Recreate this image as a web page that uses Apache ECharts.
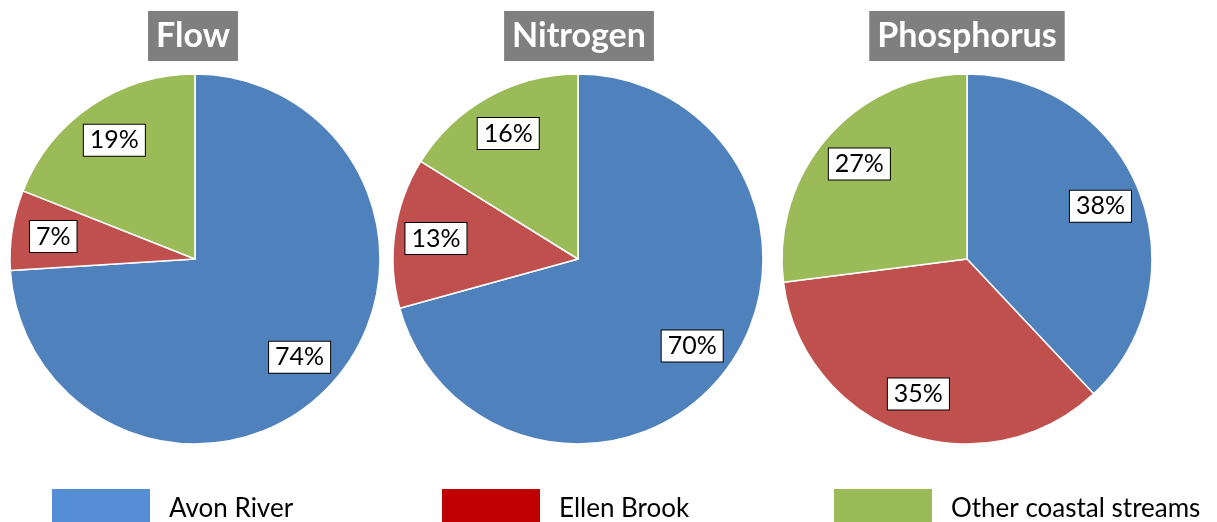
<!DOCTYPE html>
<html>
<head>
<meta charset="utf-8">
<script src="https://cdn.jsdelivr.net/npm/echarts@6/dist/echarts.min.js"></script>
<style>
  html, body { margin: 0; padding: 0; background: #fff; }
  #chart { width: 1217px; height: 522px; }
</style>
</head>
<body>
<div id="chart"></div>
<script>
// Source categories and their shares (%) for each measure
const sources = ['Avon River', 'Ellen Brook', 'Other coastal streams'];
const panelTitles = ['Flow', 'Nitrogen', 'Phosphorus'];
const flowShare = [74, 7, 19];
const nitrogenShare = [70, 13, 16];
const phosphorusShare = [38, 35, 27];

const sliceColors = ['#4F81BD', '#C0504D', '#9BBB59'];
const legendColors = ['#558ED5', '#C00000', '#9BBB59'];
const FONT = 'Lato, "Open Sans", sans-serif';

const panels = [flowShare, nitrogenShare, phosphorusShare];
const centersX = [195, 578, 967];
const CY = 259, R = 185;

const chart = echarts.init(document.getElementById('chart'));

const series = [];
panels.forEach((vals, i) => {
  const data = vals.map((v, k) => ({ name: sources[k], value: v, itemStyle: { color: sliceColors[k] } }));
  // filled slices
  series.push({
    type: 'pie',
    silent: true,
    center: [centersX[i], CY],
    radius: [0, R],
    startAngle: 90,
    clockwise: true,
    label: { show: false },
    labelLine: { show: false },
    itemStyle: { borderColor: '#fff', borderWidth: 1.5 },
    data: data
  });
  // boxed percentage labels, placed on a ring so they sit toward the rim
  series.push({
    type: 'pie',
    silent: true,
    center: [centersX[i], CY],
    radius: [96, R],
    startAngle: 90,
    clockwise: true,
    itemStyle: { color: 'rgba(0,0,0,0)', borderWidth: 0 },
    label: {
      show: true,
      position: 'inside',
      formatter: '{c}%',
      color: '#000',
      fontFamily: FONT,
      fontSize: 25,
      backgroundColor: '#fff',
      borderColor: '#000',
      borderWidth: 1,
      padding: [4, 6, 2, 6]
    },
    labelLine: { show: false },
    data: vals.map((v, k) => ({ name: sources[k], value: v }))
  });
});

const titleCenters = [192, 578, 966];
const titles = panelTitles.map((t, i) => ({
  text: t,
  left: titleCenters[i] - 7,
  top: 11,
  textAlign: 'center',
  backgroundColor: '#7F7F7F',
  padding: [8, 8, 8, 8],
  textStyle: { color: '#fff', fontFamily: FONT, fontWeight: 'bold', fontSize: 34 }
}));

const legendLefts = [50, 440, 832];
const legends = sources.map((s, k) => ({
  left: legendLefts[k],
  top: 487,
  padding: 0,
  itemWidth: 100,
  itemHeight: 42,
  selectedMode: false,
  icon: 'rect',
  data: [{ name: s, itemStyle: { color: legendColors[k] } }],
  textStyle: { color: '#000', fontFamily: FONT, fontSize: 26, padding: [0, 0, 0, 13] }
}));

chart.setOption({
  animation: false,
  title: titles,
  legend: legends,
  series: series
});
</script>
</body>
</html>
